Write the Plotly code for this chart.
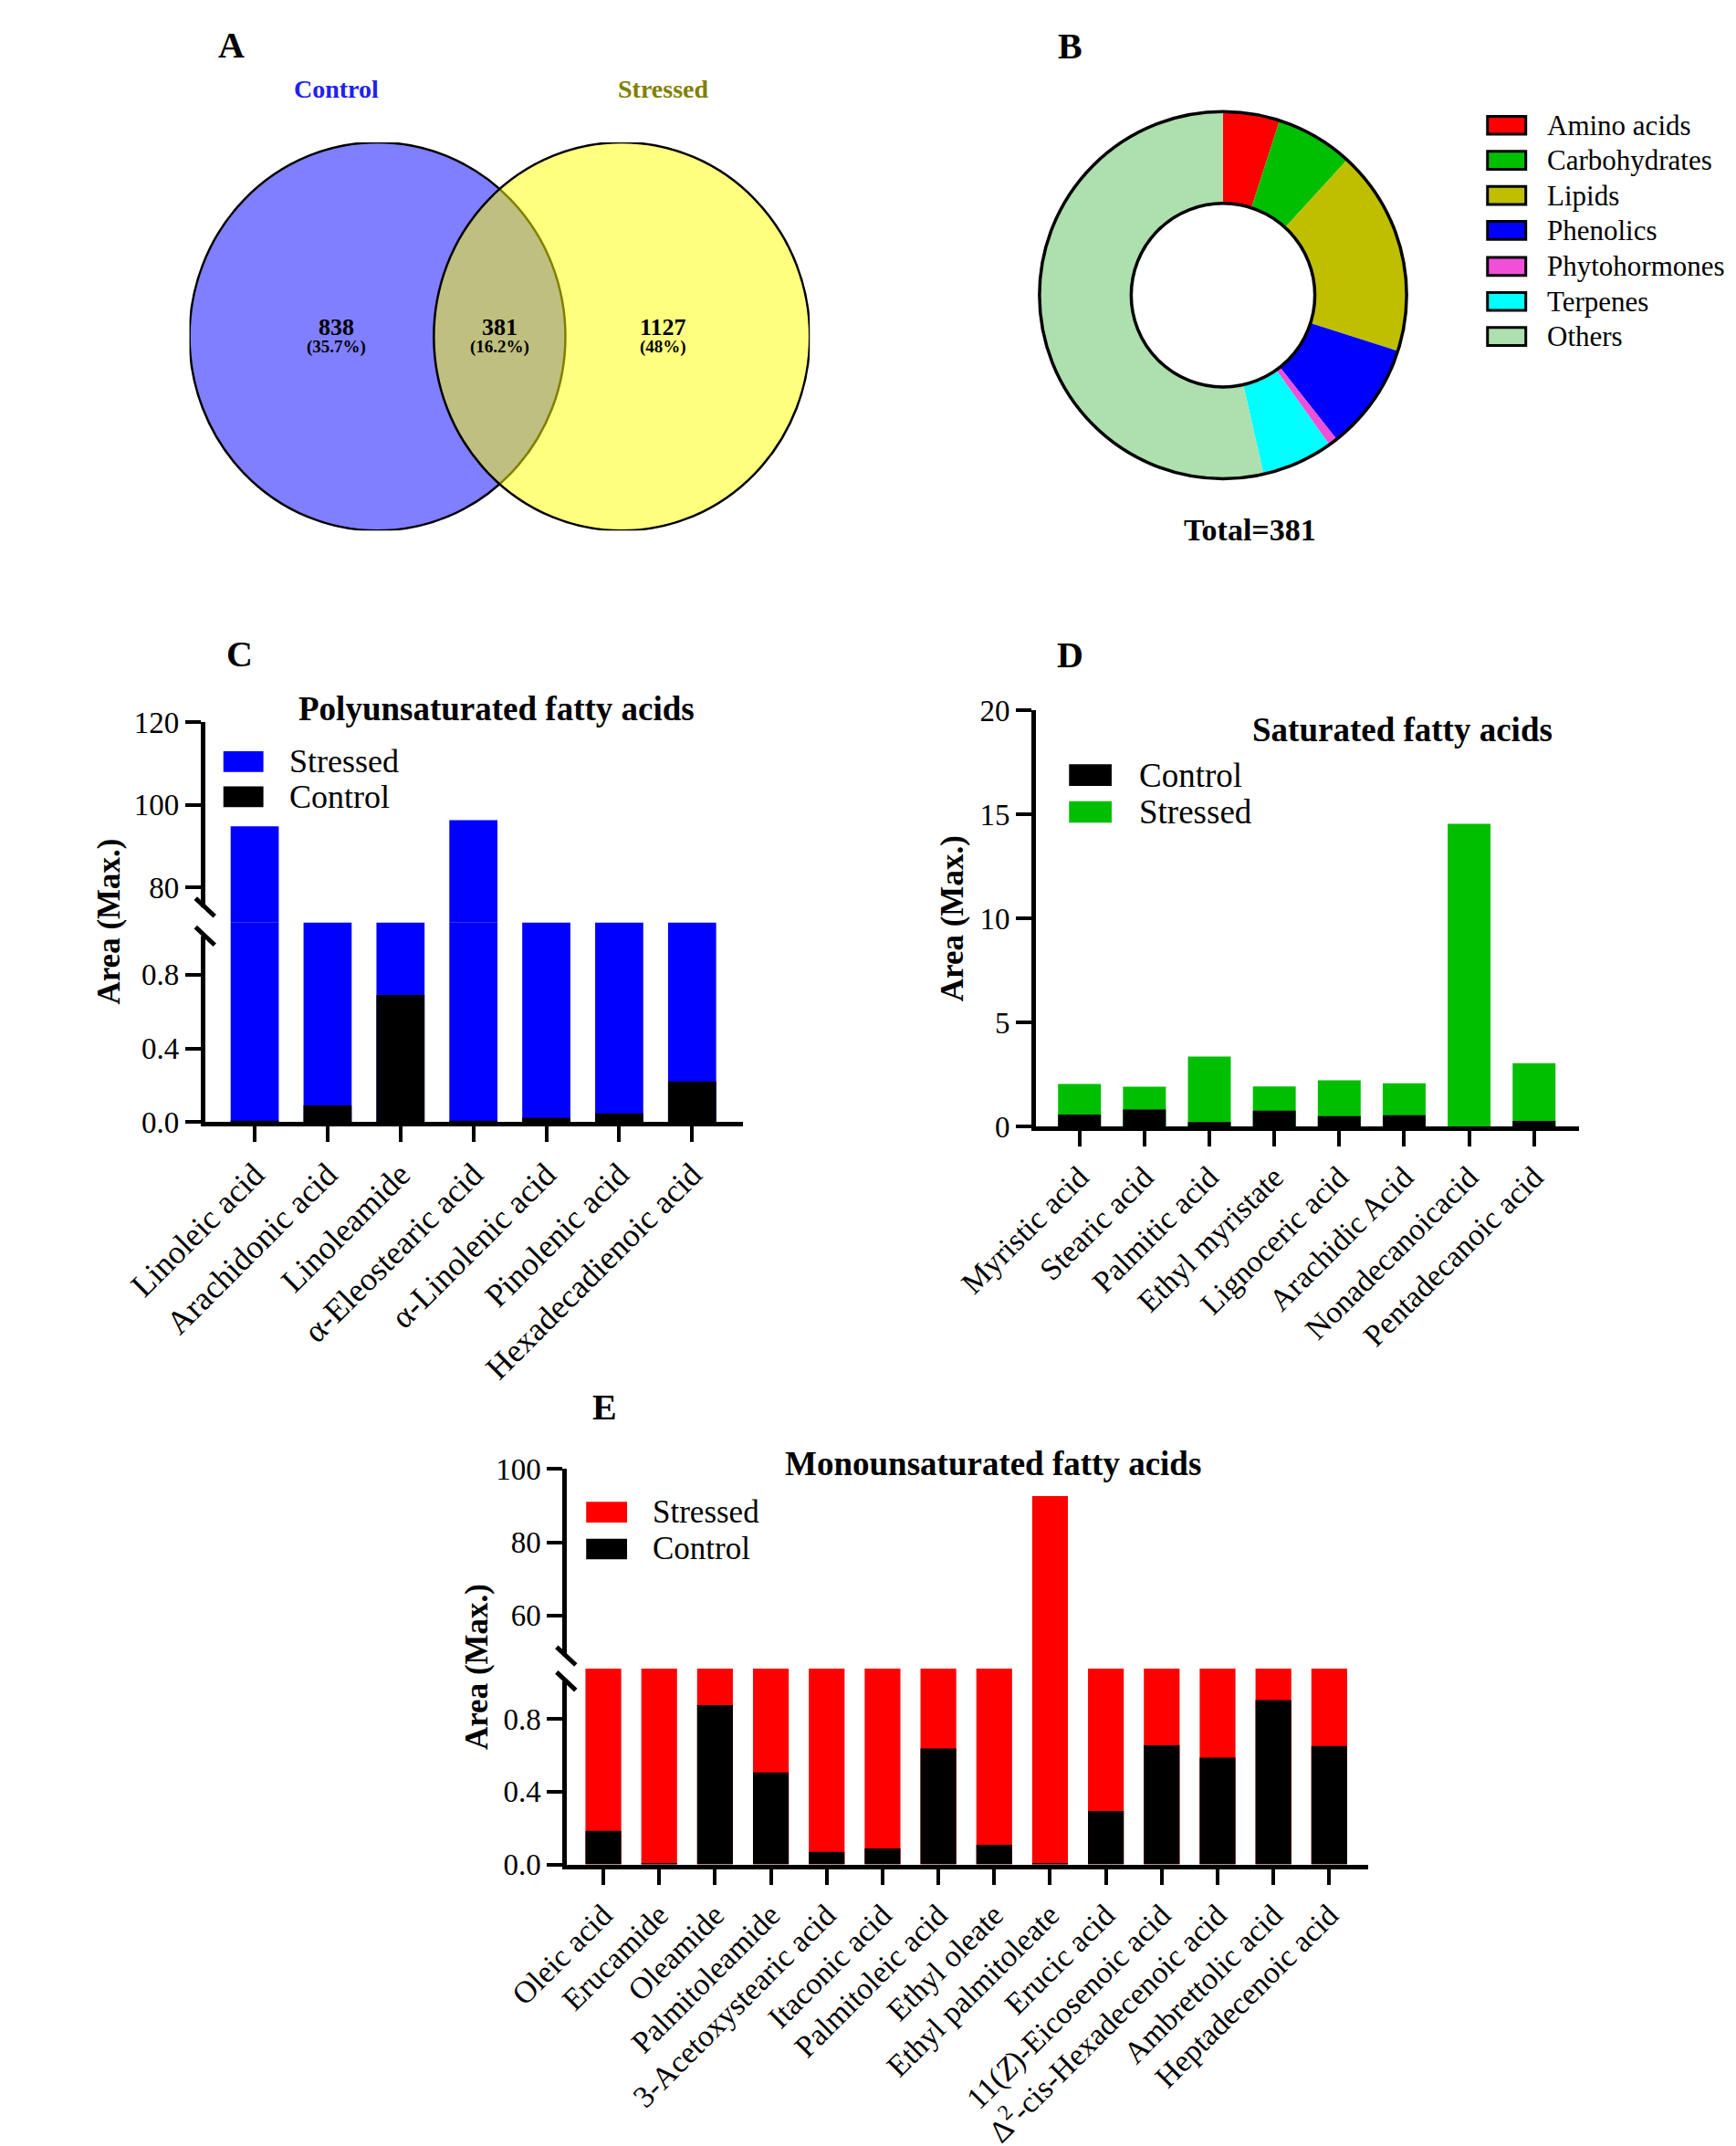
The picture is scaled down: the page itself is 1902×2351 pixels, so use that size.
import plotly.graph_objects as go

# Metabolite overlap, class split and fatty acid areas (Control vs Stressed)

W, H = 1902, 2351


def px(v):
    return v / W


def py(v):
    return 1 - v / H


# ---- data ----
# A: Venn of detected features
venn_sets = ["Control", "Stressed"]
venn_counts = [838, 381, 1127]
venn_pct = ["(35.7%)", "(16.2%)", "(48%)"]

# B: classes of the 381 shared features
class_names = ["Amino acids", "Carbohydrates", "Lipids", "Phenolics",
               "Phytohormones", "Terpenes", "Others"]
class_counts = [19, 26, 69, 36, 3, 24, 204]
class_colors = ["#FF0000", "#00BE00", "#BFBF00", "#0000FF",
                "#F050D8", "#00FFFF", "#AEDFAE"]

# C: polyunsaturated fatty acids
pufa_names = ["Linoleic acid", "Arachidonic acid", "Linoleamide",
              "α-Eleostearic acid", "α-Linolenic acid", "Pinolenic acid",
              "Hexadecadienoic acid"]
pufa_control = [0.005, 0.09, 0.69, 0.005, 0.024, 0.047, 0.22]
pufa_stressed = [94.8, 30.0, 12.0, 96.3, 40.0, 25.0, 18.0]

# D: saturated fatty acids
sfa_names = ["Myristic acid", "Stearic acid", "Palmitic acid",
             "Ethyl myristate", "Lignoceric acid", "Arachidic Acid",
             "Nonadecanoicacid", "Pentadecanoic acid"]
sfa_control = [0.58, 0.82, 0.22, 0.77, 0.50, 0.55, 0.0, 0.27]
sfa_stressed = [2.05, 1.92, 3.37, 1.93, 2.22, 2.08, 14.55, 3.05]

# E: monounsaturated fatty acids
mufa_names = ["Oleic acid", "Erucamide", "Oleamide", "Palmitoleamide",
              "3-Acetoxystearic acid", "Itaconic acid", "Palmitoleic acid",
              "Ethyl oleate", "Ethyl palmitoleate", "Erucic acid",
              "11(<i>Z</i>)-Eicosenoic acid",
              "Δ<sup>2</sup>-cis-Hexadecenoic acid", "Ambrettolic acid",
              "Heptadecenoic acid"]
mufa_control = [0.185, 0.005, 0.876, 0.506, 0.07, 0.088, 0.638, 0.109,
                0.004, 0.294, 0.655, 0.587, 0.904, 0.652]
mufa_stressed = [6.5, 12.0, 3.1, 4.8, 9.7, 7.4, 2.9, 8.8, 92.6, 5.2, 3.6,
                 4.1, 2.4, 3.3]

FONT = "Liberation Serif"
AXW = 5  # axis line width

fig = go.Figure()

# ---- B: donut (slices without separators, ring outlined by a second pie) ----
donut_dom = dict(x=[px(1093), px(1515)], y=[py(513), py(93)])
fig.add_trace(go.Pie(
    labels=class_names, values=class_counts, hole=0.5, sort=False,
    direction="clockwise", rotation=0, textinfo="none",
    marker=dict(colors=class_colors, line=dict(width=0)),
    domain=donut_dom, showlegend=False, hoverinfo="label+value",
))
fig.add_trace(go.Pie(
    labels=["Total"], values=[sum(class_counts)], hole=0.5, sort=False,
    textinfo="none", marker=dict(colors=["rgba(0,0,0,0)"],
                                 line=dict(color="black", width=3.5)),
    domain=donut_dom, showlegend=False, hoverinfo="skip",
))


def add_bars(names, control, stressed, xa, yas, s_color, width):
    for ya in yas:
        fig.add_trace(go.Bar(
            x=names, y=stressed, name="Stressed", marker_color=s_color,
            marker_line_width=0, width=width, xaxis=xa, yaxis=ya,
            showlegend=False))
        fig.add_trace(go.Bar(
            x=names, y=control, name="Control", marker_color="black",
            marker_line_width=0, width=width, xaxis=xa, yaxis=ya,
            showlegend=False))


add_bars(pufa_names, pufa_control, pufa_stressed, "x2", ["y2", "y3"],
         "#0000FF", 0.66)
add_bars(sfa_names, sfa_control, sfa_stressed, "x4", ["y4"], "#00BE00", 0.66)
add_bars(mufa_names, mufa_control, mufa_stressed, "x5", ["y5", "y6"],
         "#FF0000", 0.64)


def yax(top, bottom, rng, tickvals, ticktext=None, anchor="x2"):
    d = dict(domain=[py(bottom), py(top)], range=rng, anchor=anchor,
             showline=True, linewidth=AXW, linecolor="black",
             ticks="outside", ticklen=17, tickwidth=4, tickcolor="black",
             showgrid=False, zeroline=False, tickvals=tickvals,
             tickfont=dict(family=FONT, size=33, color="black"))
    if ticktext:
        d["ticktext"] = ticktext
    return d


def xax(left, right, rng, anchor, size):
    return dict(domain=[px(left), px(right)], range=rng, anchor=anchor,
                type="category", showline=True, linewidth=AXW,
                linecolor="black", ticks="outside", ticklen=17, tickwidth=4,
                tickcolor="black", showgrid=False, zeroline=False,
                tickangle=-45,
                tickfont=dict(family=FONT, size=size, color="black"))


fig.update_layout(
    width=W, height=H, margin=dict(l=0, r=0, t=0, b=0),
    paper_bgcolor="white", plot_bgcolor="rgba(0,0,0,0)",
    font=dict(family=FONT, color="black"),
    barmode="overlay", showlegend=False,
    # A: Venn canvas (units of circle radius)
    xaxis=dict(domain=[px(116), px(829)], range=[-1.65, 1.65],
               visible=False, anchor="y"),
    yaxis=dict(domain=[py(565), py(133)], range=[-1, 1], visible=False,
               anchor="x"),
    # C
    xaxis2=xax(134, 752, [-0.68, 6.695], "y2", 36),
    yaxis2=yax(1001, 1223, [0, 1.083], [0, 0.4, 0.8], ["0.0", "0.4", "0.8"]),
    yaxis3=yax(778, 1001, [71.5, 120], [80, 100, 120]),
    # D
    xaxis4=xax(1089, 1713, [-0.67, 7.69], "y4", 34),
    yaxis4=yax(765, 1228, [0, 20], [0, 5, 10, 15, 20], anchor="x4"),
    # E
    xaxis5=xax(550, 1471, [-0.65, 13.70], "y5", 34),
    yaxis5=yax(1831, 2049, [0, 1.077], [0, 0.4, 0.8], ["0.0", "0.4", "0.8"],
               anchor="x5"),
    yaxis6=yax(1609, 1831, [45.5, 100], [60, 80, 100], anchor="x5"),
)


def note(x, y, text, size, color="black", angle=0, xanchor="center"):
    fig.add_annotation(x=px(x), y=py(y), xref="paper", yref="paper",
                       text=text, showarrow=False, textangle=angle,
                       xanchor=xanchor, yanchor="middle",
                       font=dict(size=size, color=color))


# Venn circles (equal size, radius 1, centres at +-0.65)
VENN_R, VENN_OFF = 1.0, 0.65
for cx, fill in [(-VENN_OFF, "rgba(0,0,255,0.5)"),
                 (VENN_OFF, "rgba(255,255,0,0.5)")]:
    fig.add_shape(type="circle", xref="x", yref="y",
                  x0=cx - VENN_R, x1=cx + VENN_R, y0=-VENN_R, y1=VENN_R,
                  fillcolor=fill, line=dict(color="black", width=2.5),
                  layer="below")

venn_label_x = [-0.87, 0.0, 0.87]
for xv, n, p in zip(venn_label_x, venn_counts, venn_pct):
    fig.add_annotation(x=xv, y=0.05, xref="x", yref="y", text=f"<b>{n}</b>",
                       showarrow=False, xanchor="center", yanchor="middle",
                       font=dict(size=26))
    fig.add_annotation(x=xv, y=-0.052, xref="x", yref="y",
                       text=f"<b>{p}</b>", showarrow=False, xanchor="center",
                       yanchor="middle", font=dict(size=19))

note(285, 74, f"<b>{venn_sets[0]}</b>", 28, "#2020F0")
note(660, 74, f"<b>{venn_sets[1]}</b>", 28, "#808000")
note(1335, 564, f"<b>Total={sum(class_counts)}</b>", 34)

# panel letters
for letter, lx, ly in [("A", 164, 25), ("B", 1128, 26), ("C", 174, 702),
                       ("D", 1128, 703), ("E", 593, 1540)]:
    note(lx, ly, f"<b>{letter}</b>", 40)

# chart titles
for title, tx, ty in [("Polyunsaturated fatty acids", 469, 763),
                      ("Saturated fatty acids", 1510, 787),
                      ("Monounsaturated fatty acids", 1040, 1603)]:
    note(tx, ty, f"<b>{title}</b>", 37)

# y-axis titles
for ax_x, ax_y in [(24, 1000), (993, 997), (447, 1829)]:
    note(ax_x, ax_y, "<b>Area (Max.)</b>", 35, angle=-90)


# legends: swatch + label
def legend_block(names, colors, sw_left, sw_w, sw_h, rows, text_x, size,
                 border):
    for name, color, cy in zip(names, colors, rows):
        fig.add_shape(type="rect", xref="paper", yref="paper",
                      x0=px(sw_left), x1=px(sw_left + sw_w),
                      y0=py(cy + sw_h / 2), y1=py(cy - sw_h / 2),
                      fillcolor=color,
                      line=dict(color="black", width=border if border else 0))
        note(text_x, cy, name, size, xanchor="left")


legend_block(class_names, class_colors, 1608, 44, 20,
             [114, 153, 192, 231, 271, 310, 349], 1674, 31, 3)
legend_block(["Stressed", "Control"], ["#0000FF", "black"], 155, 46, 23,
             [822, 861], 229, 36, 0)
legend_block(["Control", "Stressed"], ["black", "#00BE00"], 1127, 49, 24,
             [837, 878], 1205, 37, 0)
legend_block(["Stressed", "Control"], ["#FF0000", "black"], 572, 47, 23,
             [1657, 1698], 646, 35, 0)

# axis breaks: hide the axis line across the gap and draw two slashes
for ax_px, top, bottom in [(134, 984, 1016), (549, 1817, 1845)]:
    fig.add_shape(type="rect", xref="paper", yref="paper",
                  x0=px(ax_px - 8), x1=px(ax_px + 8), y0=py(bottom),
                  y1=py(top), fillcolor="white", line=dict(width=0),
                  layer="above")
    for cy in (top, bottom):
        fig.add_shape(type="line", xref="paper", yref="paper",
                      x0=px(ax_px - 11), y0=py(cy - 10),
                      x1=px(ax_px + 11), y1=py(cy + 10),
                      line=dict(color="black", width=5), layer="above")

fig.write_html("out.html")
